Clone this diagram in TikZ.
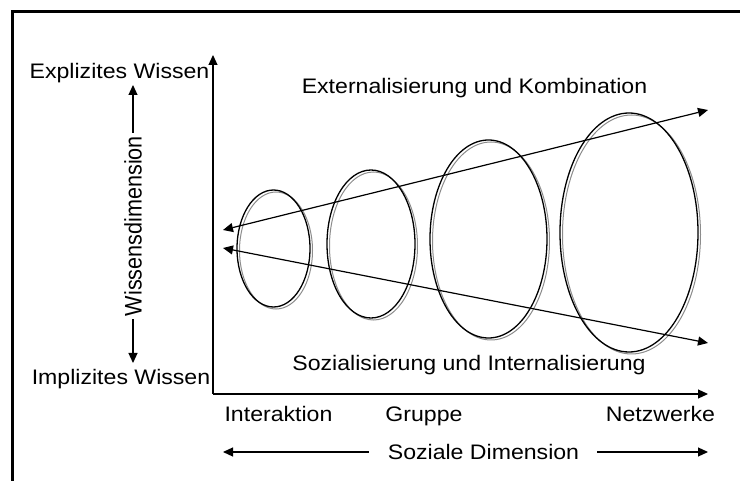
\documentclass[tikz,border=0pt]{standalone}
\usepackage{fontspec}
\setmainfont{Liberation Sans}[FakeStretch=1.1]
\newfontfamily\rotfont{Liberation Sans}[FakeStretch=0.9]
\usetikzlibrary{arrows.meta,shapes.geometric}
\tikzset{
  lbl/.style={font=\fontsize{21}{25}\selectfont,text=black,inner sep=0pt,anchor=base},
  dimlabel/.style={font=\rotfont\fontsize{24}{28}\selectfont,text=black,inner sep=3pt,rotate=90},
  axis/.style={-{Triangle[length=10pt,width=9pt]},draw=black,line width=1.2pt},
  arr/.style={{Triangle[length=10pt,width=9pt]}-{Triangle[length=10pt,width=9pt]},draw=black,line width=1.2pt},
  ring/.style={ellipse,draw=black,line width=1.3pt,inner sep=0pt,outer sep=0pt},
  ringshade/.style={ellipse,draw=black!45,line width=1pt,inner sep=0pt,outer sep=0pt}
}

\begin{document}
\begin{tikzpicture}[x=1pt,y=-1pt]
\path[use as bounding box] (0,0) rectangle (740,481);
\draw[line width=3.5pt] (740,11.3)--(12.7,11.3)--(12.7,481);
\coordinate (origin) at (213,394);
\coordinate (ytip) at (213,55);
\coordinate (xtip) at (708,394);
\draw[axis] (origin)--(ytip);
\draw[axis] (origin)--(xtip);
\node[lbl] (expl) at (119.5,79) {Explizites Wissen};
\node[lbl] (impl) at (121,385) {Implizites Wissen};
\node[dimlabel] (wd) at (133,226) {Wissensdimension};
\coordinate (wdtop) at (133,85);
\coordinate (wdbot) at (133,363);
\draw[axis] (wd.east)--(wd.east |- wdtop);
\draw[axis] (wd.west)--(wd.west |- wdbot);
\node[ringshade,minimum width=73pt,minimum height=117pt] (inter2) at (276,250.5) {};
\node[ring,minimum width=73pt,minimum height=117pt] (inter) at (273.5,248.5) {};
\node[ringshade,minimum width=88pt,minimum height=148pt] (grp2) at (373.5,246) {};
\node[ring,minimum width=88pt,minimum height=148pt] (grp) at (371,244) {};
\node[ringshade,minimum width=117pt,minimum height=198pt] (orga2) at (491,241) {};
\node[ring,minimum width=117pt,minimum height=198pt] (orga) at (488.5,239) {};
\node[ringshade,minimum width=138pt,minimum height=239pt] (netz2) at (631.5,234.5) {};
\node[ring,minimum width=138pt,minimum height=239pt] (netz) at (629,232.5) {};
\coordinate (ul) at (223,230); \coordinate (ur) at (708,110);
\coordinate (ll) at (223,248); \coordinate (lr) at (708,343);
\draw[arr] (ul)--(ur);
\draw[arr] (ll)--(lr);
\node[lbl] (ext) at (474.5,94) {Externalisierung und Kombination};
\node[lbl] (soz) at (469,371) {Sozialisierung und Internalisierung};
\node[lbl] (ia) at (278.5,421.5) {Interaktion};
\node[lbl] (gr) at (424,421.5) {Gruppe};
\node[lbl] (nw) at (660.5,421) {Netzwerke};
\node[lbl] (sd) at (483.5,460) {Soziale Dimension};
\coordinate (sdl) at (223,452); \coordinate (sdr) at (708,452);
\draw[axis] ([xshift=-19pt]sd.west |- sdl)--(sdl);
\draw[axis] ([xshift=18pt]sd.east |- sdr)--(sdr);
\end{tikzpicture}
\end{document}
